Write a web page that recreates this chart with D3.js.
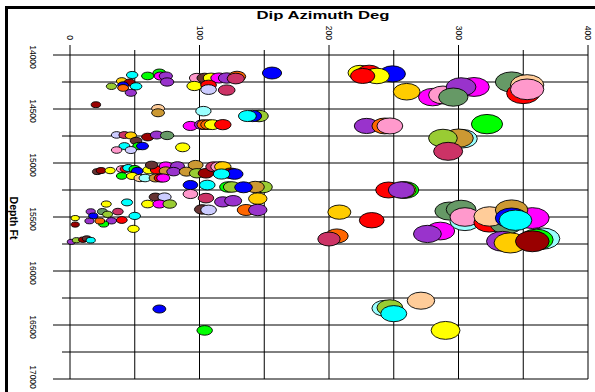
<!DOCTYPE html>
<html><head><meta charset="utf-8">
<script src="https://cdn.jsdelivr.net/npm/d3@7/dist/d3.min.js"></script>
<style>body{margin:0;background:#fff}svg{display:block}</style>
</head><body>
<svg id="c" width="595" height="392"></svg>
<script>
const xTickLabels = [0, 100, 200, 300, 400];
const yTickLabels = [14000, 14500, 15000, 15500, 16000, 16500, 17000];
const xGridValues = [0, 50, 100, 150, 200, 250, 300, 350, 400];
const yGridValues = [14000, 14250, 14500, 14750, 15000, 15250, 15500, 15750, 16000, 16250, 16500, 16750, 17000];

const palette = {
  yellow:"#FFFF00", red:"#FF0000", blue:"#0000FF", cyan:"#00FFFF", lime:"#00FF00",
  magenta:"#FF00FF", purple:"#9933CC", pink:"#FF99CC", peach:"#FFCC99",
  yellowgreen:"#99CC33", goldenrod:"#CC9933", seagreen:"#669966", crimson:"#CC3366",
  darkred:"#990000", darkbrown:"#663333", lavender:"#CCCCFF", lightcyan:"#99FFFF",
  orange:"#FF6600", gold:"#FFCC00"
};

// Dip azimuth (deg)
const azimuth = [
  48,60,69,70,74,75,40,46,41,32,41,51,47,20,68,68,
  98,104,109,115,121,129,128,156,96,107,107,121,103,146,141,137,
  93,102,104,107,110,118,
  224,231,249,237,226,260,280,288,312,302,296,341,350,353,353,
  229,243,247,322,303,300,288,292,
  36,42,47,60,67,75,51,87,42,53,56,36,47,
  21,24,31,40,43,45,50,52,40,48,54,58,61,67,63,74,83,74,80,66,70,72,90,97,98,105,111,115,118,124,127,117,
  93,106,149,143,122,125,134,93,105,118,126,145,136,145,102,107,
  66,73,60,69,77,28,44,16,25,37,29,18,32,40,50,26,23,15,49,4,4,1,5,10,13,16,
  246,259,257,256,208,233,206,200,286,276,
  293,302,305,305,324,337,324,357,341,341,344,334,365,360,340,357,
  69,104,243,247,250,271,290
];
// Depth (ft)
const depth = [
  14185,14194,14167,14195,14195,14250,14241,14255,14280,14290,14305,14290,14350,14460,14495,14535,
  14213,14213,14213,14213,14213,14200,14218,14167,14287,14278,14320,14325,14520,14565,14565,14565,
  14657,14645,14645,14645,14645,14645,
  14165,14165,14175,14194,14194,14340,14390,14370,14296,14296,14390,14250,14355,14278,14318,
  14657,14657,14657,14640,14775,14770,14770,14892,
  14740,14741,14745,14760,14741,14745,14795,14855,14843,14843,14843,14880,14880,
  15080,15070,15070,15056,15056,15046,15056,15074,15120,15120,15139,15139,15065,15065,15019,15028,15028,15074,15080,15139,15139,15139,15080,15019,15095,15095,15035,15035,15035,15095,15102,15102,
  15204,15204,15222,15222,15222,15222,15225,15287,15325,15360,15350,15330,15435,15435,15430,15435,
  15315,15315,15380,15380,15380,15380,15365,15450,15450,15450,15475,15490,15535,15528,15490,15565,15537,15537,15610,15510,15570,15730,15715,15710,15700,15715,
  15250,15250,15250,15250,15455,15530,15676,15704,15630,15657,
  15445,15430,15540,15500,15550,15565,15495,15510,15435,15510,15530,15725,15700,15710,15740,15725,
  16352,16550,16345,16340,16395,16275,16550
];
const colorKey = [
  "cyan","lime","lime","magenta","purple","purple","gold","darkred","blue","yellowgreen","orange","cyan","purple","darkred","peach","goldenrod",
  "pink","darkbrown","yellow","magenta","purple","orange","crimson","blue","yellow","red","lavender","crimson","lightcyan","yellowgreen","blue","cyan",
  "magenta","purple","orange","orange","yellow","red",
  "yellow","red","blue","yellow","red","gold","magenta","pink","magenta","purple","seagreen","seagreen","red","peach","pink",
  "purple","orange","pink","lime","lightcyan","goldenrod","yellowgreen","crimson",
  "lavender","crimson","gold","darkred","purple","seagreen","darkbrown","yellow","cyan","lime","blue","pink","lavender",
  "darkbrown","darkred","yellow","pink","red","cyan","lime","blue","lime","yellow","peach","lightcyan","yellow","red","darkbrown","magenta","purple","goldenrod","purple","goldenrod","red","magenta","goldenrod","goldenrod","yellowgreen","darkred","crimson","pink","gold","darkred","blue","cyan",
  "blue","cyan","yellowgreen","goldenrod","lime","yellowgreen","blue","pink","crimson","purple","purple","gold","orange","purple","darkbrown","lavender",
  "darkbrown","lavender","yellow","magenta","yellowgreen","yellow","cyan","purple","seagreen","crimson","yellowgreen","blue","purple","red","cyan","lime","orange","purple","yellow","yellow","darkred","purple","yellowgreen","darkred","darkbrown","cyan",
  "red","lime","yellow","purple","gold","red","orange","crimson","magenta","purple",
  "seagreen","seagreen","lightcyan","pink","red","seagreen","peach","magenta","goldenrod","blue","cyan","purple","lightcyan","lime","gold","darkred",
  "blue","lime","lightcyan","yellowgreen","cyan","peach","yellow"
];

const svg = d3.select("#c");
const x = d3.scaleLinear().domain([0, 400]).range([70, 588]);
const y = d3.scaleLinear().domain([14000, 17000]).range([55, 379]);
const rx = d3.scaleLinear().domain([0, 400]).range([4, 18.4]);

// frame
svg.append("rect").attr("x", 6.5).attr("y", 7.5).attr("width", 640).attr("height", 440)
  .attr("fill", "none").attr("stroke", "#000").attr("stroke-width", 3);

const grid = svg.append("g").attr("stroke", "#000").attr("stroke-width", 1);
xGridValues.forEach(v => {
  const major = xTickLabels.includes(v);
  grid.append("line").attr("x1", x(v)).attr("x2", x(v))
    .attr("y1", major ? 45 : 50).attr("y2", y(17000));
});
yGridValues.forEach(v => {
  const major = yTickLabels.includes(v);
  grid.append("line").attr("y1", y(v)).attr("y2", y(v))
    .attr("x1", major ? 53 : 62).attr("x2", x(400));
});

// tick labels
const lab = svg.append("g").attr("font-family", "Liberation Sans, Arial, sans-serif").attr("font-size", 8.5).attr("fill", "#000");
xTickLabels.forEach(v => {
  lab.append("text").attr("transform", `translate(${x(v)},40) rotate(90)`)
    .attr("text-anchor", "end").attr("dy", "0.35em").text(v);
});
yTickLabels.forEach(v => {
  const cy = Math.min(y(v) + 2, 377);
  lab.append("text").attr("transform", `translate(33,${cy}) rotate(90)`)
    .attr("text-anchor", "middle").attr("dy", "0.35em").text(v);
});

// titles
svg.append("text").attr("x", 323).attr("y", 19).attr("text-anchor", "middle")
  .attr("font-family", "Liberation Sans, Arial, sans-serif").attr("font-weight", "bold").attr("font-size", 10.5)
  .attr("textLength", 133).attr("lengthAdjust", "spacingAndGlyphs").text("Dip Azimuth Deg");
svg.append("text").attr("transform", "translate(14,218) rotate(90)").attr("text-anchor", "middle")
  .attr("dy", "0.35em")
  .attr("font-family", "Liberation Sans, Arial, sans-serif").attr("font-weight", "bold").attr("font-size", 10.5)
  .attr("textLength", 43).attr("lengthAdjust", "spacingAndGlyphs").text("Depth Ft");

// bubbles
const pts = azimuth.map((a, i) => ({a, d: depth[i], c: palette[colorKey[i]]}));
svg.append("g").selectAll("ellipse").data(pts).join("ellipse")
  .attr("cx", p => x(p.a)).attr("cy", p => y(p.d))
  .attr("rx", p => rx(p.a)).attr("ry", p => rx(p.a) * 0.62)
  .attr("fill", p => p.c).attr("stroke", "#000").attr("stroke-width", 0.9);
</script>
</body></html>
